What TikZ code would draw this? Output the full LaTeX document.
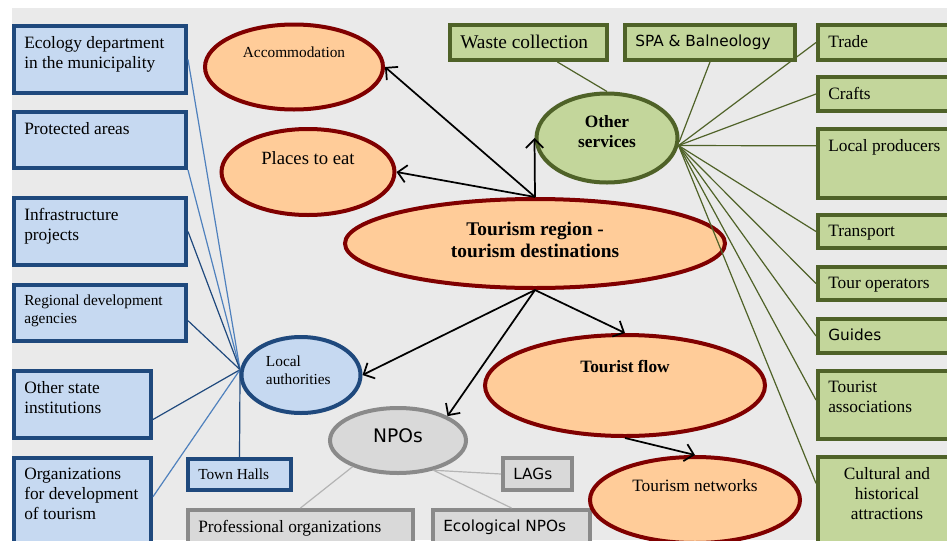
\documentclass[tikz,border=0pt]{standalone}
\usepackage{fontspec}
\setmainfont{Liberation Serif}
\newfontfamily\verdfont{DejaVu Sans}
\usetikzlibrary{arrows.meta}
\usetikzlibrary{shapes}
\usetikzlibrary{positioning}

\definecolor{bggray}{HTML}{EAEAEA}
\definecolor{bluefill}{HTML}{C6D9F1}
\definecolor{bluedark}{HTML}{1F497D}
\definecolor{bluelight}{HTML}{4F81BD}
\definecolor{orfill}{HTML}{FFCC99}
\definecolor{redline}{HTML}{800000}
\definecolor{greenfill}{HTML}{C3D69B}
\definecolor{greenline}{HTML}{4F6228}
\definecolor{greyfill}{HTML}{D9D9D9}
\definecolor{greyborder}{HTML}{8A8A8A}
\definecolor{greyline}{HTML}{B4B4B4}

\newcommand{\fsz}[2]{\fontsize{#1}{#2}\selectfont}

\begin{document}
\begin{tikzpicture}[x=0.75pt,y=-0.75pt]
\tikzset{bsize/.style 2 args={minimum width=#1*0.75pt,
           minimum height=#2*0.75pt},
         box/.style={rectangle, line width=3pt, anchor=north west, inner sep=0pt},
         bluebox/.style={box, draw=bluedark, fill=bluefill},
         greenbox/.style={box, draw=greenline, fill=greenfill},
         greybox/.style={box, draw=greyborder, fill=greyfill},
         oval/.style={ellipse, line width=3pt, inner sep=0pt},
         tourism/.style={oval, draw=redline, fill=orfill},
         boxtext/.style={anchor=north west, align=left, inner xsep=9pt,
           inner ysep=9pt, font=\fsz{13}{15}},
         sanstext/.style={boxtext, font=\verdfont\fsz{11.5}{14}},
         ovaltext/.style={anchor=center, align=center, inner sep=0pt,
           font=\fsz{13}{15}},
         blueln/.style={draw=bluedark, line width=0.9pt},
         bluelt/.style={draw=bluelight, line width=0.9pt},
         greenln/.style={draw=greenline, line width=0.9pt},
         greyln/.style={draw=greyline, line width=0.9pt},
         pil/.style={
           ->,
           >={Straight Barb[length=6.5pt,width=13pt]},
           line width=1.3pt,
           black,
           }
           }
\useasboundingbox (0,0) rectangle (947,540);
\clip (0,0) rectangle (947,540);
\fill[bggray] (12,8) rectangle (947,540);
%==========================================
% left column
\node[bluebox, bsize={172}{67},
  label={[boxtext]north west:Ecology department\\in the municipality}] (eco) at (12,24) {};
\node[bluebox, bsize={172}{56},
  label={[boxtext]north west:Protected areas}] (prt) at (12,110) {};
\node[bluebox, bsize={172}{67},
  label={[boxtext]north west:Infrastructure\\projects}] (inf) at (12,196) {};
\node[bluebox, bsize={172}{56},
  label={[boxtext, font=\fsz{11.5}{13.5}]north west:Regional development\\agencies}] (rda) at (12,283) {};
\node[bluebox, bsize={137}{67},
  label={[boxtext]north west:Other state\\institutions}] (ost) at (12,369) {};
\node[bluebox, bsize={137}{110},
  label={[boxtext]north west:Organizations\\for development\\of tourism}] (org) at (12,456) {};
\node[bluebox, bsize={103}{31},
  label={[boxtext, font=\fsz{11.5}{13.5}]north west:Town Halls}] (tow) at (186,457) {};
%==========================================
% right column
\node[greenbox, bsize={157}{35},
  label={[boxtext, font=\fsz{14.5}{16}]north west:Waste collection}] (wst) at (448,23) {};
\node[greenbox, bsize={170}{35},
  label={[sanstext]north west:SPA \& Balneology}] (spa) at (623,23) {};
\node[greenbox, bsize={138}{35},
  label={[boxtext]north west:Trade}] (trd) at (816,23) {};
\node[greenbox, bsize={138}{34},
  label={[boxtext]north west:Crafts}] (crf) at (816,75) {};
\node[greenbox, bsize={138}{69},
  label={[boxtext]north west:Local producers}] (lpr) at (816,127) {};
\node[greenbox, bsize={138}{33},
  label={[boxtext]north west:Transport}] (trn) at (816,213) {};
\node[greenbox, bsize={138}{33},
  label={[boxtext]north west:Tour operators}] (tpo) at (816,265) {};
\node[greenbox, bsize={138}{34},
  label={[sanstext]north west:Guides}] (gui) at (816,317) {};
\node[greenbox, bsize={138}{68},
  label={[boxtext]north west:Tourist\\associations}] (tas) at (816,369) {};
\node[greenbox, bsize={138}{110},
  label={[boxtext, anchor=north, align=center]north:Cultural and\\historical\\attractions}] (cul) at (816,455) {};
%==========================================
% NPOs
\node[greybox, bsize={69}{32},
  label={[sanstext]north west:LAGs}] (lag) at (501,456) {};
\node[greybox, bsize={225}{58},
  label={[boxtext]north west:Professional organizations}] (prf) at (186,508) {};
\node[greybox, bsize={157}{58},
  label={[sanstext]north west:Ecological NPOs}] (enp) at (431,508) {};
%==========================================
% ovals
\node[tourism, bsize={178}{85},
  label={[ovaltext, yshift=11.25pt, font=\fsz{11.5}{13}]center:Accommodation}] (acc) at (294,67) {};
\node[tourism, bsize={173}{86},
  label={[ovaltext, yshift=10.5pt, font=\fsz{14}{16}]center:Places to eat}] (pte) at (308,172) {};
\node[tourism, bsize={380}{89},
  label={[ovaltext, yshift=3pt, font=\bfseries\fsz{14.5}{16.5}]center:Tourism region -\\tourism destinations}] (reg) at (535,243.5) {};
\node[oval, draw=greenline, fill=greenfill, bsize={141}{89},
  label={[ovaltext, yshift=4.5pt, font=\bfseries\fsz{13}{15}]center:Other\\services}] (osv) at (607,138) {};
\node[oval, draw=bluedark, fill=bluefill, bsize={119}{76},
  label={[ovaltext, align=left, xshift=-2pt, yshift=3.75pt, font=\fsz{11.5}{13.5}]center:Local\\authorities}] (loc) at (301,375) {};
\node[tourism, bsize={280}{101},
  label={[ovaltext, yshift=14pt, font=\bfseries\fsz{13}{15}]center:Tourist flow}] (tfl) at (625,385.5) {};
\node[tourism, bsize={210}{86},
  label={[ovaltext, yshift=10.5pt]center:Tourism networks}] (tnw) at (695,500) {};
\node[oval, draw=greyborder, fill=greyfill, bsize={136}{65},
  label={[ovaltext, yshift=3.75pt, font=\verdfont\fsz{14}{16}]center:NPOs}] (npo) at (398,440.5) {};
%==========================================
% links
\draw[bluelt] (eco.east) -- (loc.175);
\draw[bluelt] (prt.south east) -- (loc.175);
\draw[blueln] (inf.east) -- (loc.175);
\draw[blueln] (rda.-5) -- (loc.175);
\draw[blueln] (ost.-12) -- (loc.175);
\draw[bluelt] (org.13) -- (loc.175);
\draw[blueln] (tow.north) -- (loc.175);

\draw[greenln] (wst.-34) -- (osv.north);
\draw[greenln] (spa.south) -- (osv.-3);
\foreach \b/\a in {trd/west, crf/west, lpr/166, trn/west, tpo/west,
                   gui/west, tas/176, cul/158}
  \draw[greenln] (osv.-6) -- (\b.\a);

\draw[greyln] (npo.-150) -- (prf.north);
\draw[greyln] (npo.-40) -- (lag.west);
\draw[greyln] (npo.-40) -- (enp.north);

\draw[pil] (reg.north) -- (acc.east);
\draw[pil] (reg.north) -- (pte.east);
\draw[pil] (reg.north) -- (osv.west);
\draw[pil] (reg.south) -- (loc.east);
\draw[pil] (reg.south) -- (npo.north east);
\draw[pil] (reg.south) -- (tfl.north);
\draw[pil] (tfl.south) -- (tnw.north);
\end{tikzpicture}
\end{document}
